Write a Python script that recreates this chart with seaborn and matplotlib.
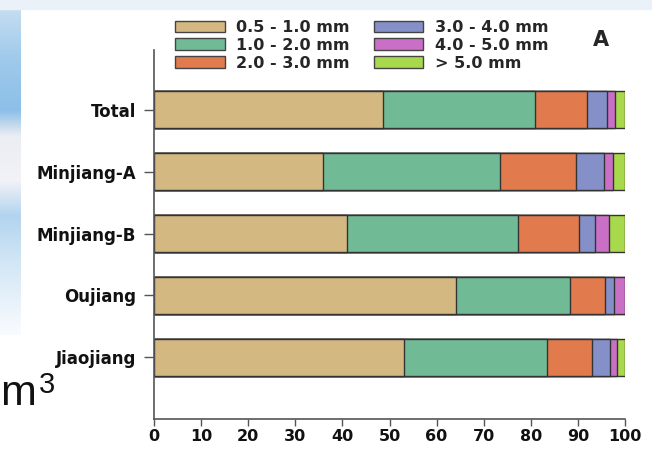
import numpy as np
import pandas as pd
import matplotlib
matplotlib.use("Agg")
import matplotlib.pyplot as plt
from matplotlib.patches import Patch
import seaborn as sns

categories = ["Total", "Minjiang-A", "Minjiang-B", "Oujiang", "Jiaojiang"]
size_classes = ["0.5 - 1.0 mm", "1.0 - 2.0 mm", "2.0 - 3.0 mm",
                "3.0 - 4.0 mm", "4.0 - 5.0 mm", "> 5.0 mm"]
s_05_10 = [48.7, 35.9, 41.0, 64.2, 53.0]
s_10_20 = [32.2, 37.6, 36.3, 24.2, 30.5]
s_20_30 = [11.0, 16.2, 13.0, 7.4, 9.4]
s_30_40 = [4.2, 5.8, 3.3, 1.8, 4.0]
s_40_50 = [1.8, 2.0, 3.1, 2.4, 1.5]
s_gt_50 = [2.1, 2.5, 3.3, 0.2, 1.6]
colors = ["#d4b882", "#70bb95", "#e17b4e", "#8590c9", "#c970c6", "#a8d84c"]
xticks = [0, 10, 20, 30, 40, 50, 60, 70, 80, 90, 100]

sns.set_style("ticks")
plt.rcParams["font.family"] = ["DejaVu Sans"]

W, H = 652, 453
fig = plt.figure(figsize=(W / 100, H / 100), dpi=100)

# background decoration (slide behind the figure)
bg = fig.add_axes([0, 0, 1, 1], zorder=-5)
bg.set_xlim(0, W)
bg.set_ylim(H, 0)
bg.axis("off")
stop_y = [0, 60, 110, 135, 180, 215, 260, 335]
stop_c = [(0.80, 0.88, 0.95), (0.62, 0.79, 0.92), (0.55, 0.75, 0.91),
          (0.92, 0.93, 0.95), (0.95, 0.95, 0.97), (0.70, 0.83, 0.94),
          (0.82, 0.90, 0.96), (0.98, 0.99, 1.00)]
yy = np.arange(335)
grad = np.stack([np.interp(yy, stop_y, [c[j] for c in stop_c]) for j in range(3)], axis=-1)
grad = grad[:, None, :]
bg.imshow(grad, extent=(0, 21, 335, 0), aspect="auto", zorder=0)
bg.add_patch(plt.Rectangle((0, 0), W, 9, color="#eaf1f9", zorder=1))
bg.text(0, 405, "m", fontsize=31, family="Liberation Sans", color="#111111", va="baseline")
bg.text(39, 393, "3", fontsize=21, family="Liberation Sans", color="#111111", va="baseline")

ax = fig.add_axes([154 / W, 1 - 419 / H, (625 - 154) / W, (419 - 50) / H])
ax.patch.set_alpha(0)

series = [s_05_10, s_10_20, s_20_30, s_30_40, s_40_50, s_gt_50]
cum = np.cumsum(np.array(series), axis=0)
for k in range(len(series) - 1, -1, -1):
    df = pd.DataFrame({"cat": categories, "val": cum[k]})
    sns.barplot(data=df, x="val", y="cat", orient="h", color=colors[k],
                edgecolor="#333333", linewidth=1.0, width=0.6, ax=ax,
                saturation=1)

ax.set_xlim(0, 100)
ax.set_ylim(5.0, -0.97)
ax.set_xticks(xticks)
ax.set_xticklabels([str(v) for v in xticks], fontsize=11.5, fontweight="bold")
ax.set_yticks(range(len(categories)))
ax.set_yticklabels(categories, fontsize=12, fontweight="bold")
ax.set_xlabel("")
ax.set_ylabel("")
sns.despine(ax=ax)
for sp in ["left", "bottom"]:
    ax.spines[sp].set_color("#555555")
    ax.spines[sp].set_linewidth(1.2)
ax.tick_params(axis="both", colors="#555555", labelcolor="#111111", width=1.0)
ax.tick_params(axis="y", length=7, pad=6)
ax.tick_params(axis="x", length=5, pad=2)

handles = [Patch(facecolor=c, edgecolor="#444444", linewidth=1.0) for c in colors]
fig.legend(handles, size_classes, loc="upper left", bbox_to_anchor=(175 / W, 1 - 20 / H),
           ncol=2, frameon=False, prop={"size": 11.5, "weight": "bold"},
           handlelength=3.1, handleheight=0.75, labelspacing=0.18,
           columnspacing=1.5, handletextpad=0.75, borderpad=0, borderaxespad=0)
fig.text(601 / W, 1 - 40 / H, "A", fontsize=15, fontweight="bold", ha="center", va="center")

fig.savefig("out.png", dpi=100, facecolor="white")
